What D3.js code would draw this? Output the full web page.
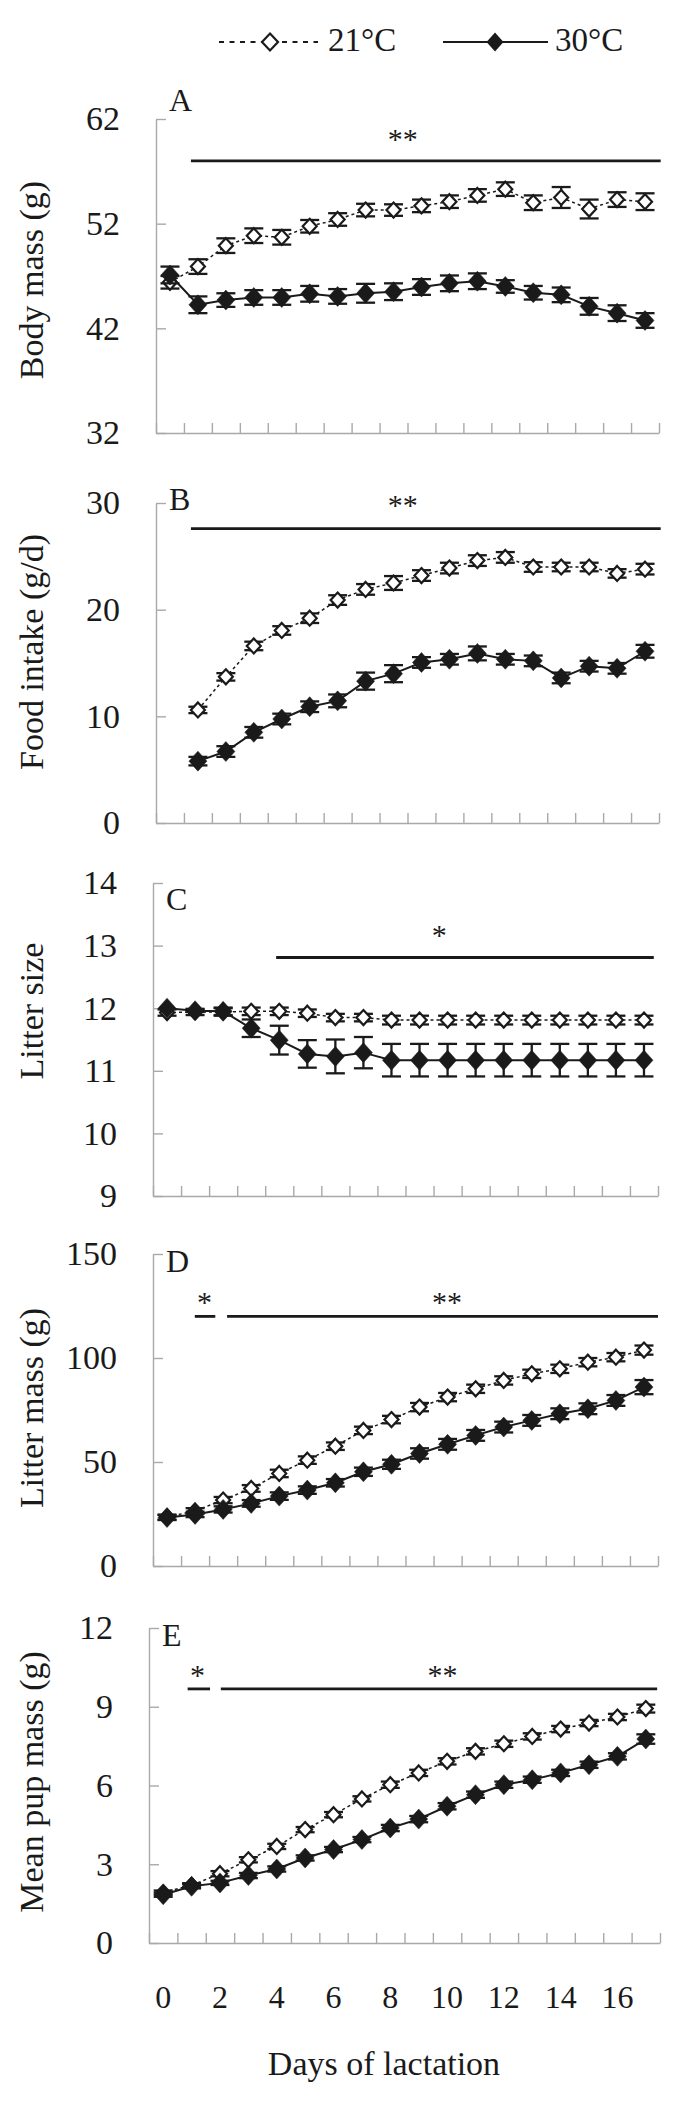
<!DOCTYPE html>
<html><head><meta charset="utf-8">
<script src="https://cdn.jsdelivr.net/npm/d3@7"></script>
<style>body{margin:0;background:#fff}svg{display:block}</style>
</head><body><div id="chart"></div>
<script>
// ---------- data ----------
const days = [0,1,2,3,4,5,6,7,8,9,10,11,12,13,14,15,16,17];
const xTickLabels = [0,2,4,6,8,10,12,14,16];
const seriesNames = ["21°C","30°C"];

const bodyMass21   = [46.4,47.9,49.9,50.85,50.7,51.75,52.4,53.3,53.3,53.7,54.1,54.7,55.3,54.0,54.5,53.4,54.3,54.1];
const bodyMass21Se = [0.6,0.7,0.7,0.7,0.7,0.6,0.6,0.6,0.55,0.6,0.6,0.6,0.65,0.7,1.0,0.9,0.7,0.8];
const bodyMass30   = [47.1,44.25,44.7,44.95,44.95,45.3,45.05,45.35,45.5,45.95,46.3,46.5,46.0,45.4,45.2,44.1,43.45,42.75];
const bodyMass30Se = [0.8,0.8,0.65,0.7,0.7,0.75,0.7,0.9,0.8,0.75,0.75,0.75,0.6,0.65,0.7,0.8,0.75,0.7];

const foodIntake21   = [null,10.6,13.7,16.6,18.05,19.2,20.9,21.9,22.5,23.2,23.9,24.6,24.9,24.0,24.0,24.0,23.4,23.8];
const foodIntake21Se = [null,0.3,0.35,0.4,0.4,0.45,0.45,0.5,0.65,0.5,0.5,0.5,0.5,0.45,0.4,0.4,0.4,0.5];
const foodIntake30   = [null,5.8,6.7,8.5,9.75,10.9,11.45,13.3,14.0,15.05,15.35,15.9,15.35,15.2,13.6,14.7,14.5,16.1];
const foodIntake30Se = [null,0.4,0.5,0.5,0.5,0.5,0.6,0.8,0.8,0.5,0.5,0.65,0.5,0.5,0.5,0.5,0.5,0.6];

const litterSize21   = [11.93,11.94,11.94,11.95,11.95,11.92,11.85,11.85,11.81,11.81,11.81,11.81,11.81,11.81,11.81,11.81,11.81,11.81];
const litterSize21Se = [0.05,0.05,0.06,0.06,0.06,0.06,0.06,0.06,0.07,0.07,0.07,0.07,0.07,0.07,0.07,0.07,0.07,0.07];
const litterSize30   = [12.0,11.96,11.95,11.68,11.49,11.27,11.23,11.29,11.17,11.17,11.17,11.17,11.17,11.17,11.17,11.17,11.17,11.17];
const litterSize30Se = [0.0,0.02,0.06,0.14,0.23,0.22,0.27,0.25,0.26,0.26,0.26,0.26,0.26,0.26,0.26,0.26,0.26,0.26];

const litterMass21   = [23.5,26.5,31.7,37.3,44.5,50.9,57.6,65.2,70.4,76.4,81.2,85.2,89.2,92.4,94.8,98.0,100.4,103.8];
const litterMass21Se = [1.2,1.3,1.5,1.6,1.8,1.8,1.8,1.8,1.8,2.0,2.0,2.0,2.0,2.0,2.0,2.0,2.0,2.2];
const litterMass30   = [23.3,24.8,27.2,30.1,33.6,36.5,40.0,45.3,48.9,54.1,58.5,62.8,66.8,70.0,73.2,75.6,79.6,86.0];
const litterMass30Se = [1.2,1.3,1.5,1.6,1.8,1.8,1.8,2.0,2.2,2.5,2.6,2.6,2.6,2.6,2.6,2.6,2.6,3.4];

const pupMass21   = [1.92,2.2,2.64,3.17,3.68,4.32,4.89,5.49,6.03,6.48,6.92,7.30,7.59,7.87,8.15,8.38,8.61,8.93];
const pupMass21Se = [0.08,0.08,0.1,0.1,0.1,0.1,0.1,0.1,0.12,0.12,0.12,0.12,0.12,0.12,0.12,0.12,0.12,0.15];
const pupMass30   = [1.84,2.16,2.29,2.57,2.82,3.24,3.56,3.94,4.38,4.72,5.21,5.65,6.03,6.22,6.48,6.79,7.11,7.77];
const pupMass30Se = [0.08,0.08,0.08,0.1,0.1,0.1,0.1,0.1,0.12,0.12,0.12,0.12,0.12,0.12,0.12,0.12,0.12,0.18];

const yTicksA = [32,42,52,62];
const yTicksB = [0,10,20,30];
const yTicksC = [9,10,11,12,13,14];
const yTicksD = [0,50,100,150];
const yTicksE = [0,3,6,9,12];

// significance bars: [from, to, value]  (x in category-boundary units)
const sigLinesA = [[1.25,18.06,58.0]];
const sigStarsA = [["**",8.83,60.6]];
const sigLinesB = [[1.25,18.06,27.6]];
const sigStarsB = [["**",8.83,30.3]];
const sigLinesC = [[4.39,17.85,12.81]];
const sigStarsC = [["*",10.2,13.25]];
const sigLinesD = [[1.49,2.22,120],[2.64,18.0,120]];
const sigStarsD = [["*",1.84,129.5],["**",10.48,129.5]];
const sigLinesE = [[1.36,2.15,9.68],[2.53,17.9,9.68]];
const sigStarsE = [["*",1.71,10.4],["**",10.34,10.4]];

// ---------- layout ----------
const panels = [
  {letter:"A", title:"Body mass (g)", v21:bodyMass21, s21:bodyMass21Se, v30:bodyMass30, s30:bodyMass30Se, ticks:yTicksA,
   lines:sigLinesA, stars:sigStarsA, left:156, right:659, top:119, bottom:433, letterY:111, titleY:280},
  {letter:"B", title:"Food intake (g/d)", v21:foodIntake21, s21:foodIntake21Se, v30:foodIntake30, s30:foodIntake30Se, ticks:yTicksB,
   lines:sigLinesB, stars:sigStarsB, left:156, right:659, top:503, bottom:823, letterY:510, titleY:652},
  {letter:"C", title:"Litter size", v21:litterSize21, s21:litterSize21Se, v30:litterSize30, s30:litterSize30Se, ticks:yTicksC,
   lines:sigLinesC, stars:sigStarsC, left:153, right:658, top:883, bottom:1196, letterY:910, titleY:1011},
  {letter:"D", title:"Litter mass (g)", v21:litterMass21, s21:litterMass21Se, v30:litterMass30, s30:litterMass30Se, ticks:yTicksD,
   lines:sigLinesD, stars:sigStarsD, left:153, right:658, top:1254, bottom:1566, letterY:1272, titleY:1408},
  {letter:"E", title:"Mean pup mass (g)", v21:pupMass21, s21:pupMass21Se, v30:pupMass30, s30:pupMass30Se, ticks:yTicksE,
   lines:sigLinesE, stars:sigStarsE, left:149, right:660, top:1628, bottom:1943, letterY:1646, titleY:1782, xLabels:true}
];

const SERIF = "'Liberation Serif','Times New Roman',serif";
const AXIS = "#a9a9a9";
const INK = "#1a1a1a";

const svg = d3.select("#chart").append("svg").attr("width",675).attr("height",2115)
  .style("background","#fff");

function diamond(w,h){ return `M0,${-h}L${w},0L0,${h}L${-w},0Z`; }

panels.forEach(p => {
  const g = svg.append("g");
  const y = d3.scaleLinear().domain([p.ticks[0], p.ticks[p.ticks.length-1]]).range([p.bottom, p.top]);
  const xb = d3.scaleBand().domain(days).range([p.left, p.right]).padding(0);
  const xl = d3.scaleLinear().domain([0, days.length]).range([p.left, p.right]);
  const cx = d => xb(d) + xb.bandwidth()/2;
  const bounds = days.concat([days.length]);

  // y axis
  const ya = g.append("g").attr("transform", `translate(${p.left},0)`)
    .call(d3.axisLeft(y).tickValues(p.ticks).tickSizeInner(-10).tickSizeOuter(0).tickPadding(36).tickFormat(d3.format("d")));
  ya.attr("font-family", SERIF);
  ya.select(".domain").attr("stroke", AXIS).attr("stroke-width", 1.4);
  ya.selectAll(".tick line").attr("stroke", AXIS).attr("stroke-width", 1.4);
  ya.selectAll(".tick text").attr("font-family", SERIF).attr("font-size", 34).attr("fill", INK);

  // x axis
  const xa = g.append("g").attr("transform", `translate(0,${p.bottom})`)
    .call(d3.axisBottom(xl).tickValues(bounds).tickSizeInner(-10).tickSizeOuter(0).tickFormat(""));
  xa.select(".domain").attr("stroke", AXIS).attr("stroke-width", 1.4);
  xa.selectAll(".tick line").attr("stroke", AXIS).attr("stroke-width", 1.4);

  // panel letter
  g.append("text").attr("x", p.left + 13).attr("y", p.letterY).text(p.letter)
    .attr("font-family", SERIF).attr("font-size", 32).attr("fill", INK);

  // y title
  g.append("text").attr("transform", `translate(43,${p.titleY}) rotate(-90)`)
    .attr("text-anchor", "middle").attr("font-family", SERIF).attr("font-size", 34).attr("fill", INK)
    .text(p.title);

  // significance
  p.lines.forEach(s => {
    g.append("line").attr("x1", xl(s[0])).attr("x2", xl(s[1])).attr("y1", y(s[2])).attr("y2", y(s[2]))
      .attr("stroke", INK).attr("stroke-width", 2.8);
  });
  p.stars.forEach(s => {
    g.append("text").attr("x", xl(s[1])).attr("y", y(s[2]) + 15).attr("text-anchor", "middle")
      .attr("font-family", SERIF).attr("font-size", 30).attr("fill", INK).text(s[0]);
  });

  // series
  const series = [
    {v:p.v21, s:p.s21, open:true},
    {v:p.v30, s:p.s30, open:false}
  ];
  series.forEach(sr => {
    const pts = days.map((d,i) => ({d, v:sr.v[i], s:sr.s[i]})).filter(o => o.v != null);
    const line = d3.line().x(o => cx(o.d)).y(o => y(o.v));
    g.append("path").attr("d", line(pts)).attr("fill", "none").attr("stroke", INK)
      .attr("stroke-width", sr.open ? 1.5 : 2).attr("stroke-dasharray", sr.open ? "3,3" : null);
    const eb = g.append("g").attr("stroke", INK).attr("stroke-width", 2.3);
    pts.forEach(o => {
      if (!o.s) return;
      const x = cx(o.d), y1 = y(o.v - o.s), y2 = y(o.v + o.s);
      eb.append("line").attr("x1", x).attr("x2", x).attr("y1", y1).attr("y2", y2);
      eb.append("line").attr("x1", x-9.5).attr("x2", x+9.5).attr("y1", y1).attr("y2", y1);
      eb.append("line").attr("x1", x-9.5).attr("x2", x+9.5).attr("y1", y2).attr("y2", y2);
    });
    g.append("g").selectAll("path").data(pts).join("path")
      .attr("transform", o => `translate(${cx(o.d)},${y(o.v)})`)
      .attr("d", sr.open ? diamond(7,7.5) : diamond(9,10))
      .attr("fill", sr.open ? "#fff" : INK)
      .attr("stroke", INK).attr("stroke-width", sr.open ? 2.2 : 0.5)
      .attr("stroke-linejoin", "miter");
  });

  if (p.xLabels) {
    g.append("g").selectAll("text").data(xTickLabels).join("text")
      .attr("x", d => cx(d)).attr("y", p.bottom + 65).attr("text-anchor", "middle")
      .attr("font-family", SERIF).attr("font-size", 32).attr("fill", INK).text(d => d);
    g.append("text").attr("x", 384).attr("y", 2075).attr("text-anchor", "middle")
      .attr("font-family", SERIF).attr("font-size", 34).attr("fill", INK).text("Days of lactation");
  }
});

// legend
const lg = svg.append("g");
lg.append("line").attr("x1", 219).attr("x2", 318).attr("y1", 42).attr("y2", 42)
  .attr("stroke", INK).attr("stroke-width", 2).attr("stroke-dasharray", "5,5.5");
lg.append("path").attr("transform", "translate(270,42)").attr("d", diamond(8,8.5))
  .attr("fill", "#fff").attr("stroke", INK).attr("stroke-width", 2.2);
lg.append("text").attr("x", 328).attr("y", 51).attr("font-family", SERIF).attr("font-size", 33).attr("fill", INK).text(seriesNames[0]);
lg.append("line").attr("x1", 443).attr("x2", 548).attr("y1", 42).attr("y2", 42)
  .attr("stroke", INK).attr("stroke-width", 2.2);
lg.append("path").attr("transform", "translate(495,42)").attr("d", diamond(8.5,9.5)).attr("fill", INK);
lg.append("text").attr("x", 555).attr("y", 51).attr("font-family", SERIF).attr("font-size", 33).attr("fill", INK).text(seriesNames[1]);
</script>
</body></html>
